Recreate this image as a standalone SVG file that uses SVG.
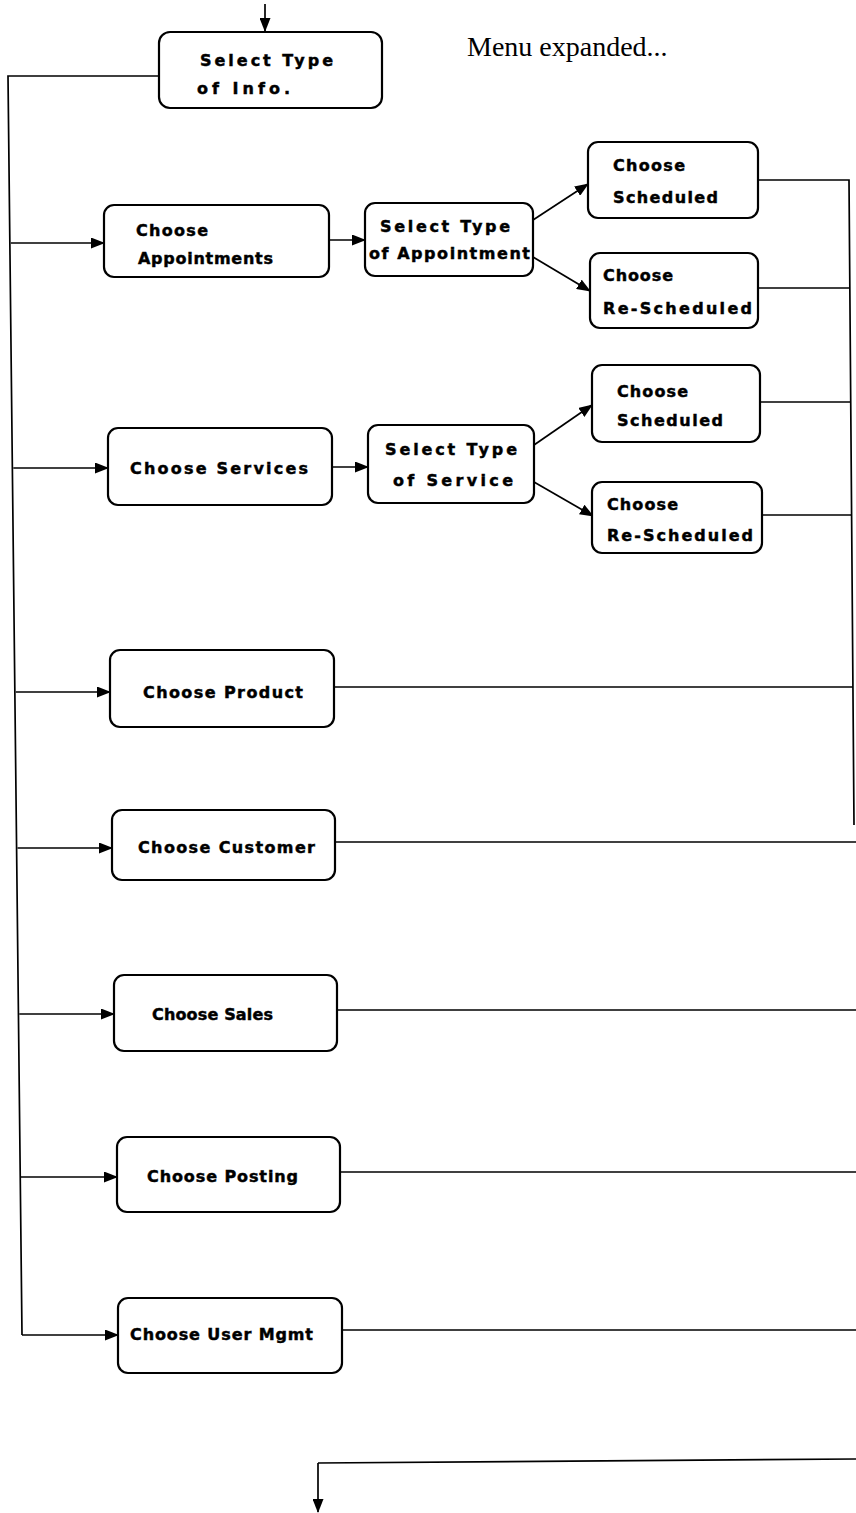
<svg xmlns="http://www.w3.org/2000/svg" width="856" height="1513" viewBox="0 0 856 1513">
  <style>
    .box { fill: #ffffff; stroke: #000000; stroke-width: 2.2; }
    .lbl { font-family: "DejaVu Sans", "Liberation Sans", sans-serif; font-weight: bold; font-size: 16px; fill: #000000; stroke: #000000; stroke-width: 0.45; }
    .wire { fill: none; stroke: #000000; stroke-width: 1.7; }
    .arrow { fill: none; stroke: #000000; stroke-width: 1.7; marker-end: url(#head); }
    .title { font-family: "Liberation Serif", "Times New Roman", serif; font-size: 28px; fill: #000000; }
  </style>
  <defs>
    <marker id="head" markerWidth="14" markerHeight="11" refX="13" refY="5.5" orient="auto" markerUnits="userSpaceOnUse">
      <path d="M0,0 L14,5.5 L0,11 Z" fill="#000000"/>
    </marker>
  </defs>

  <rect width="856" height="1513" fill="#ffffff"/>

  <text class="title" x="467" y="56">Menu expanded...</text>

  <!-- connectors -->
  <g id="connectors">
    <line class="arrow" x1="265" y1="4" x2="265" y2="31"/>
    <!-- left trunk -->
    <polyline class="wire" points="159,76 8,76 22,1335"/>
    <line class="arrow" x1="10.8" y1="243" x2="104" y2="243"/>
    <line class="arrow" x1="13.3" y1="468" x2="108" y2="468"/>
    <line class="arrow" x1="15.8" y1="692" x2="110" y2="692"/>
    <line class="arrow" x1="17.5" y1="848" x2="112" y2="848"/>
    <line class="arrow" x1="19.3" y1="1014" x2="114" y2="1014"/>
    <line class="arrow" x1="21" y1="1177" x2="117" y2="1177"/>
    <line class="arrow" x1="22" y1="1335" x2="118" y2="1335"/>
    <!-- appointments branch -->
    <line class="arrow" x1="329" y1="240" x2="365" y2="240"/>
    <line class="arrow" x1="533" y1="220" x2="588" y2="184"/>
    <line class="arrow" x1="533" y1="257" x2="590" y2="291"/>
    <!-- services branch -->
    <line class="arrow" x1="332" y1="467" x2="368" y2="467"/>
    <line class="arrow" x1="534" y1="445" x2="592" y2="405"/>
    <line class="arrow" x1="534" y1="482" x2="593" y2="516"/>
    <!-- right collector -->
    <polyline class="wire" points="758,180 849,180 854,825"/>
    <line class="wire" x1="758" y1="288" x2="850" y2="288"/>
    <line class="wire" x1="760" y1="402" x2="851" y2="402"/>
    <line class="wire" x1="762" y1="515" x2="852" y2="515"/>
    <line class="wire" x1="334" y1="687" x2="853" y2="687"/>
    <line class="wire" x1="335" y1="842" x2="856" y2="842"/>
    <line class="wire" x1="337" y1="1010" x2="856" y2="1010"/>
    <line class="wire" x1="340" y1="1172" x2="856" y2="1172"/>
    <line class="wire" x1="342" y1="1330" x2="856" y2="1330"/>
    <!-- exit -->
    <line class="wire" x1="856" y1="1459" x2="318" y2="1463"/>
    <line class="arrow" x1="318" y1="1463" x2="318" y2="1512"/>
  </g>

  <g id="node-info">
    <rect class="box" x="159" y="32" width="223" height="76" rx="11"/>
    <text class="lbl" x="200" y="66" textLength="133" lengthAdjust="spacing">Select Type</text>
    <text class="lbl" x="197" y="94" textLength="93" lengthAdjust="spacing">of Info.</text>
  </g>

  <g id="node-appointments">
    <rect class="box" x="104" y="205" width="225" height="72" rx="10"/>
    <text class="lbl" x="136" y="236" textLength="72" lengthAdjust="spacing">Choose</text>
    <text class="lbl" x="138" y="264" textLength="135" lengthAdjust="spacing">Appointments</text>
  </g>

  <g id="node-appt-type">
    <rect class="box" x="365" y="203" width="168" height="73" rx="10"/>
    <text class="lbl" x="380" y="232" textLength="130" lengthAdjust="spacing">Select Type</text>
    <text class="lbl" x="369" y="259" textLength="161" lengthAdjust="spacing">of Appointment</text>
  </g>

  <g id="node-appt-scheduled">
    <rect class="box" x="588" y="142" width="170" height="76" rx="10"/>
    <text class="lbl" x="613" y="171" textLength="72" lengthAdjust="spacing">Choose</text>
    <text class="lbl" x="613" y="203" textLength="105" lengthAdjust="spacing">Scheduled</text>
  </g>

  <g id="node-appt-rescheduled">
    <rect class="box" x="590" y="253" width="168" height="75" rx="10"/>
    <text class="lbl" x="603" y="281" textLength="70" lengthAdjust="spacing">Choose</text>
    <text class="lbl" x="603" y="314" textLength="149" lengthAdjust="spacing">Re-Scheduled</text>
  </g>

  <g id="node-services">
    <rect class="box" x="108" y="428" width="224" height="77" rx="10"/>
    <text class="lbl" x="130" y="474" textLength="178" lengthAdjust="spacing">Choose  Services</text>
  </g>

  <g id="node-service-type">
    <rect class="box" x="368" y="425" width="166" height="78" rx="10"/>
    <text class="lbl" x="385" y="455" textLength="132" lengthAdjust="spacing">Select Type</text>
    <text class="lbl" x="393" y="486" textLength="120" lengthAdjust="spacing">of  Service</text>
  </g>

  <g id="node-svc-scheduled">
    <rect class="box" x="592" y="365" width="168" height="77" rx="10"/>
    <text class="lbl" x="617" y="397" textLength="71" lengthAdjust="spacing">Choose</text>
    <text class="lbl" x="617" y="426" textLength="106" lengthAdjust="spacing">Scheduled</text>
  </g>

  <g id="node-svc-rescheduled">
    <rect class="box" x="592" y="482" width="170" height="71" rx="10"/>
    <text class="lbl" x="607" y="510" textLength="71" lengthAdjust="spacing">Choose</text>
    <text class="lbl" x="607" y="541" textLength="146" lengthAdjust="spacing">Re-Scheduled</text>
  </g>

  <g id="node-product">
    <rect class="box" x="110" y="650" width="224" height="77" rx="10"/>
    <text class="lbl" x="143" y="698" textLength="160" lengthAdjust="spacing">Choose Product</text>
  </g>

  <g id="node-customer">
    <rect class="box" x="112" y="810" width="223" height="70" rx="10"/>
    <text class="lbl" x="138" y="853" textLength="177" lengthAdjust="spacing">Choose Customer</text>
  </g>

  <g id="node-sales">
    <rect class="box" x="114" y="975" width="223" height="76" rx="10"/>
    <text class="lbl" x="152" y="1020" textLength="121" lengthAdjust="spacing">Choose Sales</text>
  </g>

  <g id="node-posting">
    <rect class="box" x="117" y="1137" width="223" height="75" rx="10"/>
    <text class="lbl" x="147" y="1182" textLength="151" lengthAdjust="spacing">Choose Posting</text>
  </g>

  <g id="node-user-mgmt">
    <rect class="box" x="118" y="1298" width="224" height="75" rx="10"/>
    <text class="lbl" x="130" y="1340" textLength="183" lengthAdjust="spacing">Choose User Mgmt</text>
  </g>
</svg>
